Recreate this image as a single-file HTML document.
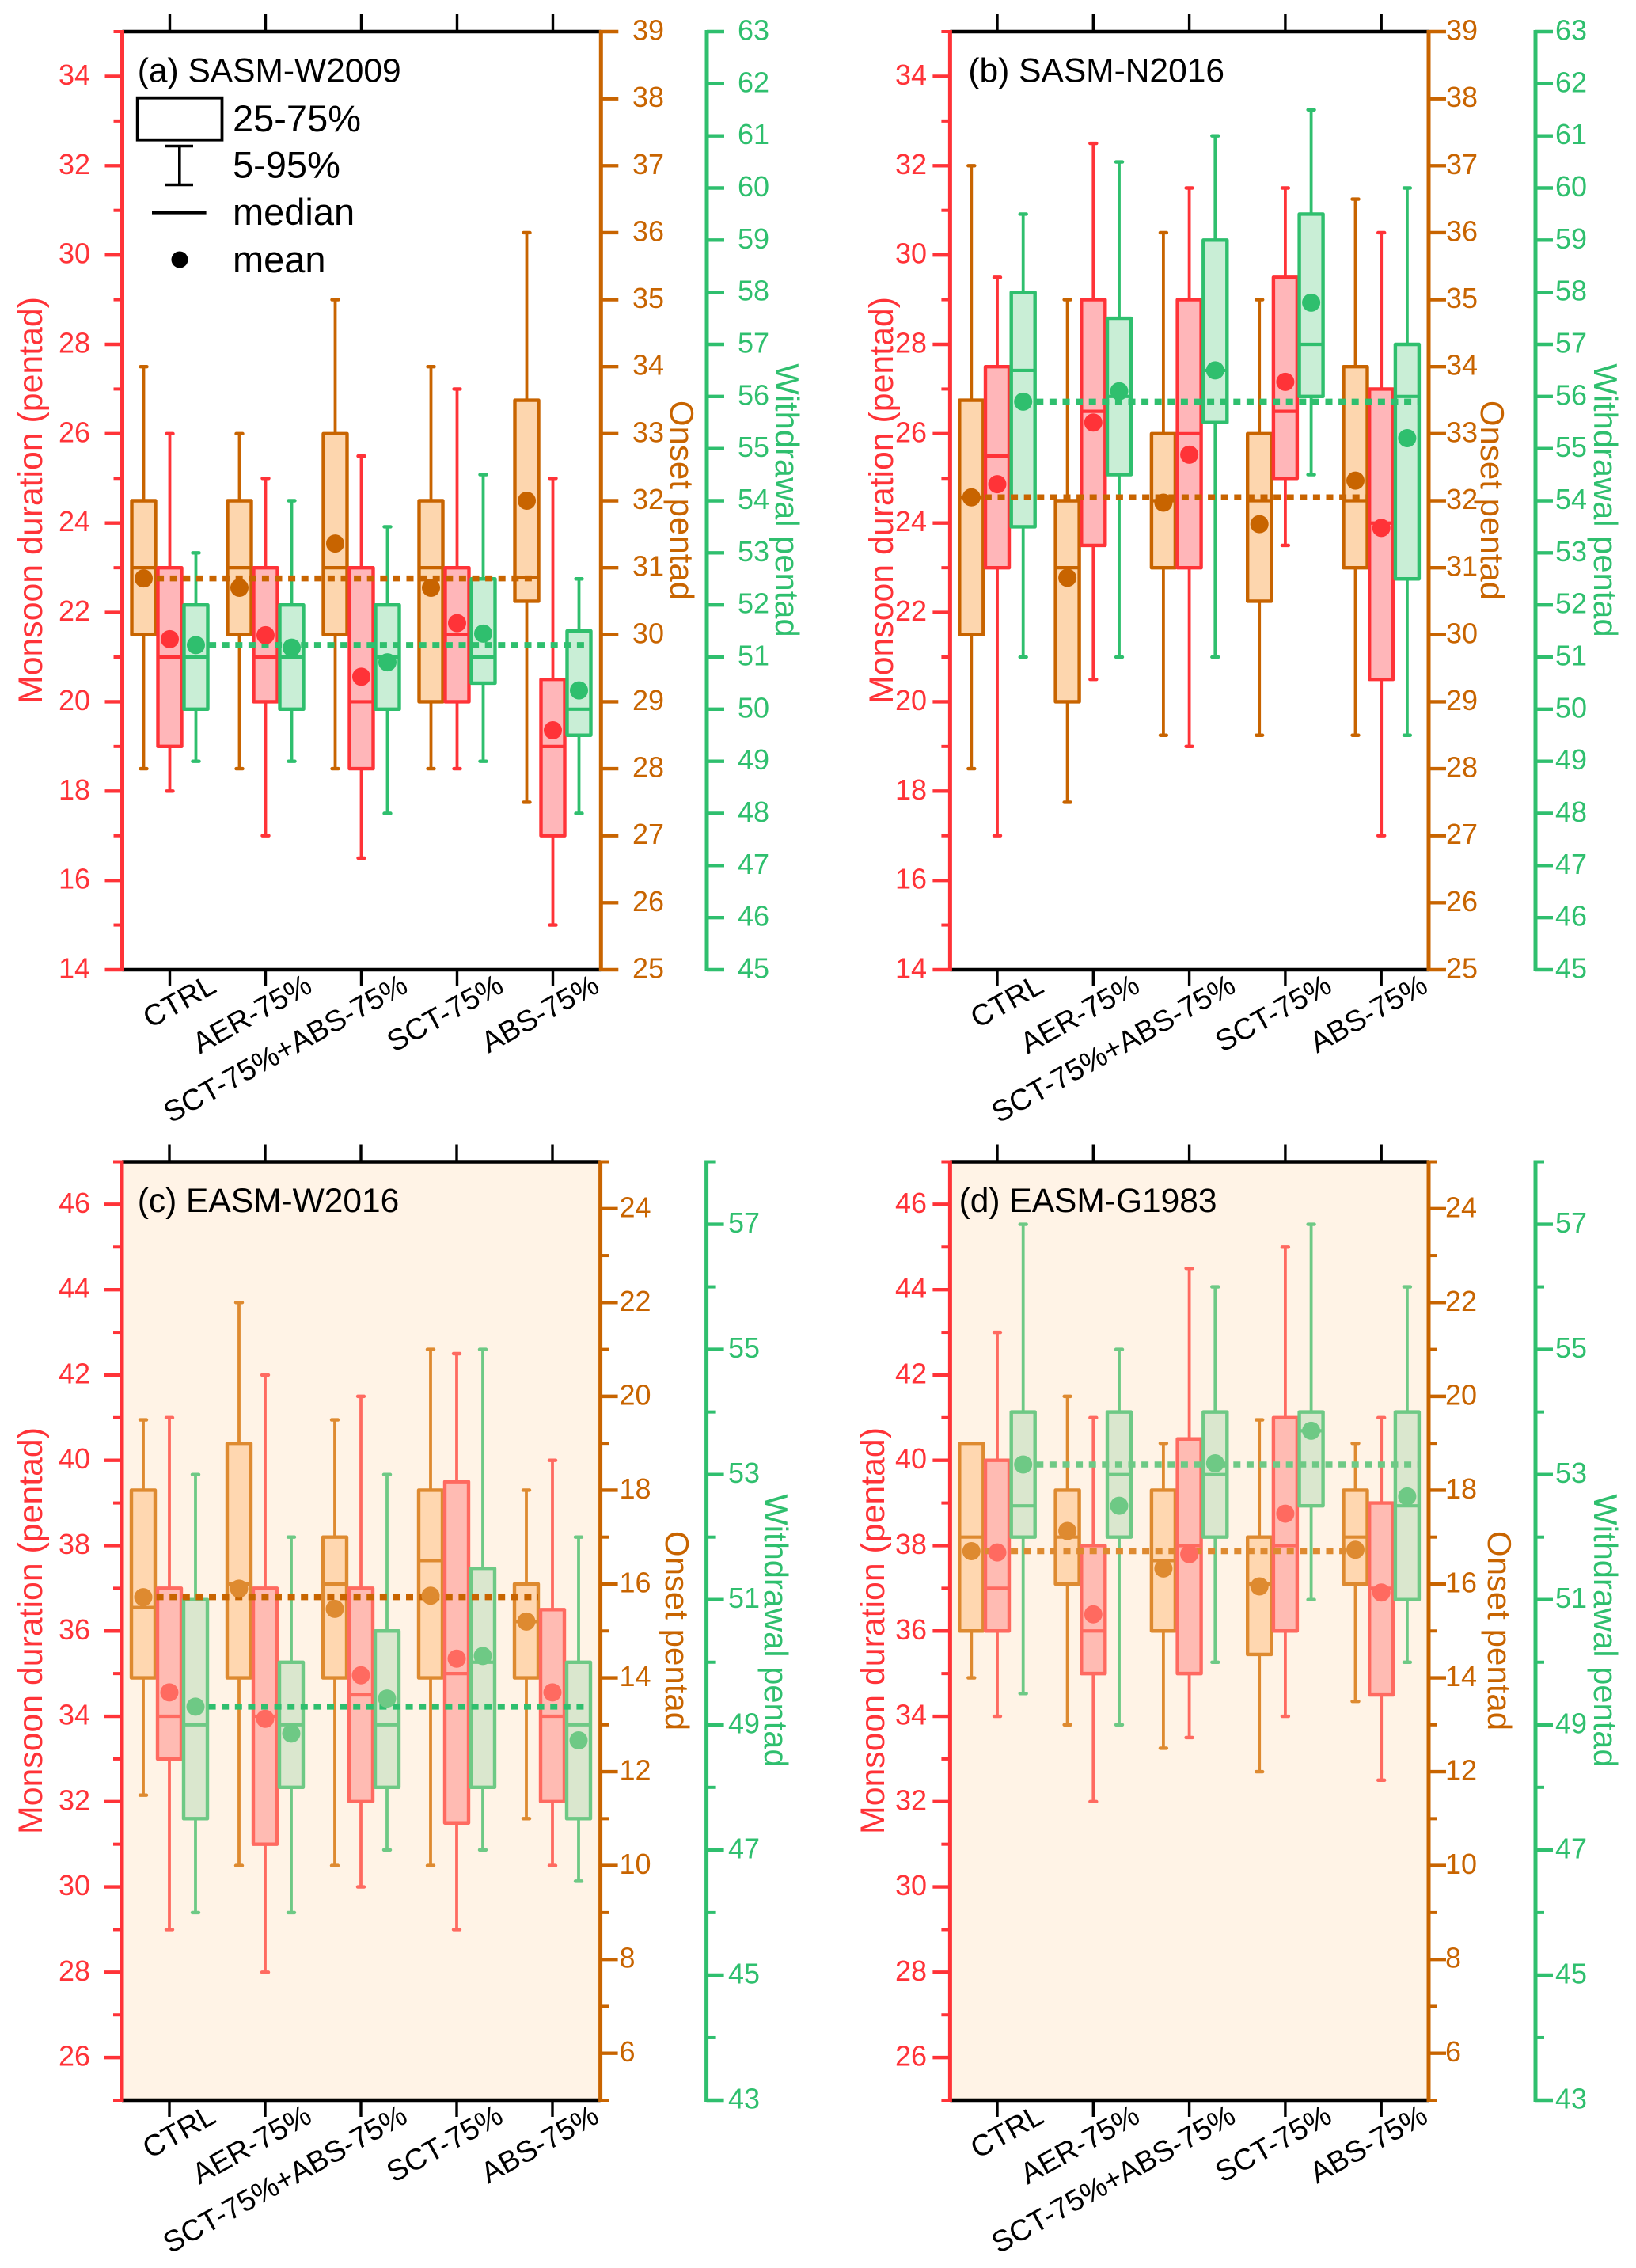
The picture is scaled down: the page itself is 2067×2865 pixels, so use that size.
<!DOCTYPE html>
<html lang="en">
<head>
<meta charset="utf-8">
<title>Monsoon duration, onset and withdrawal box plots</title>
<style>
html,body{margin:0;padding:0;background:#fff;}
svg{display:block;font-family:"Liberation Sans",Arial,sans-serif;}
</style>
</head>
<body>
<svg id="chart" xmlns="http://www.w3.org/2000/svg" width="2067" height="2865" viewBox="0 0 2067 2865"></svg>
<script>
// Categories
const categories = ["CTRL","AER-75%","SCT-75%+ABS-75%","SCT-75%","ABS-75%"];

// Axis tick labels
const sasmDurationTicks = [14,16,18,20,22,24,26,28,30,32,34];
const sasmDurationMinor = [15,17,19,21,23,25,27,29,31,33,35];
const sasmOnsetTicks = [25,26,27,28,29,30,31,32,33,34,35,36,37,38,39];
const sasmOnsetMinor = [];
const sasmWithdrawalTicks = [45,46,47,48,49,50,51,52,53,54,55,56,57,58,59,60,61,62,63];
const sasmWithdrawalMinor = [];
const easmDurationTicks = [26,28,30,32,34,36,38,40,42,44,46];
const easmDurationMinor = [25,27,29,31,33,35,37,39,41,43,45,47];
const easmOnsetTicks = [6,8,10,12,14,16,18,20,22,24];
const easmOnsetMinor = [5,7,9,11,13,15,17,19,21,23,25];
const easmWithdrawalTicks = [43,45,47,49,51,53,55,57];
const easmWithdrawalMinor = [44,46,48,50,52,54,56,58];

// Panel (a) SASM-W2009
const aOnsetLow  = [28,28,28,28,27.5];
const aOnsetQ1   = [30,30,30,29,30.5];
const aOnsetMed  = [31,31,31,31,30.85];
const aOnsetQ3   = [32,32,33,32,33.5];
const aOnsetHigh = [34,33,35,34,36];
const aOnsetMean = [30.84,30.7,31.36,30.7,32];
const aDurLow  = [18,17,16.5,18.5,15];
const aDurQ1   = [19,20,18.5,20,17];
const aDurMed  = [21,21,20,21.5,19];
const aDurQ3   = [23,23,23,23,20.5];
const aDurHigh = [26,25,25.5,27,25];
const aDurMean = [21.4,21.49,20.56,21.76,19.36];
const aWdrLow  = [49,49,48,49,48];
const aWdrQ1   = [50,50,50,50.5,49.5];
const aWdrMed  = [51,51,51,51,50];
const aWdrQ3   = [52,52,52,52.5,51.5];
const aWdrHigh = [53,54,53.5,54.5,52.5];
const aWdrMean = [51.23,51.18,50.9,51.45,50.36];

// Panel (b) SASM-N2016
const bOnsetLow  = [28,27.5,28.5,28.5,28.5];
const bOnsetQ1   = [30,29,31,30.5,31];
const bOnsetMed  = [32.05,31,32,32,32];
const bOnsetQ3   = [33.5,32,33,33,34];
const bOnsetHigh = [37,35,36,35,36.5];
const bOnsetMean = [32.05,30.85,31.97,31.65,32.3];
const bDurLow  = [17,20.5,19,23.5,17];
const bDurQ1   = [23,23.5,23,25,20.5];
const bDurMed  = [25.5,26.5,26,26.5,24];
const bDurQ3   = [27.5,29,29,29.5,27];
const bDurHigh = [29.5,32.5,31.5,31.5,30.5];
const bDurMean = [24.87,26.25,25.53,27.16,23.89];
const bWdrLow  = [51,51,51,54.5,49.5];
const bWdrQ1   = [53.5,54.5,55.5,56,52.5];
const bWdrMed  = [56.5,56,56.5,57,56];
const bWdrQ3   = [58,57.5,59,59.5,57];
const bWdrHigh = [59.5,60.5,61,61.5,60];
const bWdrMean = [55.9,56.1,56.5,57.8,55.2];

// Panel (c) EASM-W2016
const cOnsetLow  = [11.5,10,10,10,11];
const cOnsetQ1   = [14,14,14,14,14];
const cOnsetMed  = [15.5,16,16,16.5,15.2];
const cOnsetQ3   = [18,19,17,18,16];
const cOnsetHigh = [19.5,22,19.5,21,18];
const cOnsetMean = [15.72,15.9,15.47,15.75,15.2];
const cDurLow  = [29,28,30,29,30.5];
const cDurQ1   = [33,31,32,31.5,32];
const cDurMed  = [34,34,34.5,35,34];
const cDurQ3   = [37,37,37,39.5,36.5];
const cDurHigh = [41,42,41.5,42.5,40];
const cDurMean = [34.56,33.94,34.96,35.35,34.56];
const cWdrLow  = [46,46,47,47,46.5];
const cWdrQ1   = [47.5,48,48,48,47.5];
const cWdrMed  = [49,49,49,50,49];
const cWdrQ3   = [51,50,50.5,51.5,50];
const cWdrHigh = [53,52,53,55,52];
const cWdrMean = [49.29,48.86,49.42,50.1,48.75];

// Panel (d) EASM-G1983
const dOnsetLow  = [14,13,12.5,12,13.5];
const dOnsetQ1   = [15,16,15,14.5,16];
const dOnsetMed  = [17,17,16.5,16,17];
const dOnsetQ3   = [19,18,18,17,18];
const dOnsetHigh = [19,20,19,19.5,19];
const dOnsetMean = [16.7,17.13,16.33,15.95,16.73];
const dDurLow  = [34,32,33.5,34,32.5];
const dDurQ1   = [36,35,35,36,34.5];
const dDurMed  = [37,36,38,38,37];
const dDurQ3   = [40,38,40.5,41,39];
const dDurHigh = [43,41,44.5,45,41];
const dDurMean = [37.84,36.39,37.8,38.75,36.9];
const dWdrLow  = [49.5,49,50,51,50];
const dWdrQ1   = [52,52,52,52.5,51];
const dWdrMed  = [52.5,53,53,53.7,52.5];
const dWdrQ3   = [54,54,54,54,54];
const dWdrHigh = [57,55,56,57,56];
const dWdrMean = [53.16,52.5,53.18,53.7,52.65];

const strong = {onset:"#C86400", dur:"#FF3338", wdr:"#2FBF6E"};
const light  = {onset:"#DE8A30", dur:"#FF6A60", wdr:"#6EC985"};
const fillWhite = {onset:"#FDD6AE", dur:"#FFB6B9", wdr:"#C9EED6"};
const fillCream = {onset:"#FFD7B0", dur:"#FFBBB3", wdr:"#DAE7CE"};

const sasmAxes = {
  dur:{min:14,max:35,ticks:sasmDurationTicks,minor:sasmDurationMinor},
  onset:{min:25,max:39,ticks:sasmOnsetTicks,minor:sasmOnsetMinor},
  wdr:{min:45,max:63,ticks:sasmWithdrawalTicks,minor:sasmWithdrawalMinor}
};
const easmAxes = {
  dur:{min:25,max:47,ticks:easmDurationTicks,minor:easmDurationMinor},
  onset:{min:5,max:25,ticks:easmOnsetTicks,minor:easmOnsetMinor},
  wdr:{min:43,max:58,ticks:easmWithdrawalTicks,minor:easmWithdrawalMinor}
};

const panels = [
 {id:"a",title:"(a) SASM-W2009",titleX:173.7,titleY:103.6,left:154.5,right:759.3,green:893,top:40,bottom:1225,tick0:214.5,step:121,off:33,axes:sasmAxes,
  durR:114,onsetL:799,wdrL:932,durT:53,onsetT:847,wdrT:980,mid:632,bg:null,line:strong,dash:strong,fill:fillWhite,
  onset:[aOnsetLow,aOnsetQ1,aOnsetMed,aOnsetQ3,aOnsetHigh,aOnsetMean],
  dur:[aDurLow,aDurQ1,aDurMed,aDurQ3,aDurHigh,aDurMean],
  wdr:[aWdrLow,aWdrQ1,aWdrMed,aWdrQ3,aWdrHigh,aWdrMean]},
 {id:"b",title:"(b) SASM-N2016",titleX:1223.4,titleY:103.6,left:1200.4,right:1805,green:1940,top:40,bottom:1225,tick0:1260,step:121.3,off:32.7,axes:sasmAxes,
  durR:1171,onsetL:1827,wdrL:1965,durT:1128,onsetT:1871,wdrT:2014,mid:632,bg:null,line:strong,dash:strong,fill:fillWhite,
  onset:[bOnsetLow,bOnsetQ1,bOnsetMed,bOnsetQ3,bOnsetHigh,bOnsetMean],
  dur:[bDurLow,bDurQ1,bDurMed,bDurQ3,bDurHigh,bDurMean],
  wdr:[bWdrLow,bWdrQ1,bWdrMed,bWdrQ3,bWdrHigh,bWdrMean]},
 {id:"c",title:"(c) EASM-W2016",titleX:173.7,titleY:1531,left:154,right:758.6,green:892.6,top:1467.5,bottom:2653,tick0:214,step:121,off:33,axes:easmAxes,
  durR:114,onsetL:782.5,wdrL:920,durT:53,onsetT:841,wdrT:966,mid:2060,bg:"#FFF3E6",line:light,dash:strong,fill:fillCream,
  onset:[cOnsetLow,cOnsetQ1,cOnsetMed,cOnsetQ3,cOnsetHigh,cOnsetMean],
  dur:[cDurLow,cDurQ1,cDurMed,cDurQ3,cDurHigh,cDurMean],
  wdr:[cWdrLow,cWdrQ1,cWdrMed,cWdrQ3,cWdrHigh,cWdrMean]},
 {id:"d",title:"(d) EASM-G1983",titleX:1211.6,titleY:1531,left:1200.4,right:1805,green:1940,top:1467.5,bottom:2653,tick0:1260,step:121.3,off:32.7,axes:easmAxes,
  durR:1171,onsetL:1826,wdrL:1965,durT:1117,onsetT:1880,wdrT:2014,mid:2060,bg:"#FFF3E6",line:light,dash:light,fill:fillCream,
  onset:[dOnsetLow,dOnsetQ1,dOnsetMed,dOnsetQ3,dOnsetHigh,dOnsetMean],
  dur:[dDurLow,dDurQ1,dDurMed,dDurQ3,dDurHigh,dDurMean],
  wdr:[dWdrLow,dWdrQ1,dWdrMed,dWdrQ3,dWdrHigh,dWdrMean]}
];

const NS = "http://www.w3.org/2000/svg";
const root = document.getElementById("chart");
function mk(parent, tag, attrs, text){
  const n = document.createElementNS(NS, tag);
  for(const k in attrs){ n.setAttribute(k, attrs[k]); }
  if(text !== undefined){ n.textContent = text; }
  parent.appendChild(n);
  return n;
}
function scale(ax, p){
  return v => p.bottom - (v - ax.min) * (p.bottom - p.top) / (ax.max - ax.min);
}

function drawYAxis(g, p, key, axisX, dir, labelX, anchor, color, nm){
  const ax = p.axes[key];
  const y = scale(ax, p);
  let el = mk(g, "line", {x1:axisX,x2:axisX,y1:p.top-2,y2:p.bottom+2,stroke:color,"stroke-width":5});
  
  
  ax.ticks.forEach(v => {
    const t = mk(g, "line", {x1:axisX,x2:axisX+dir*22,y1:y(v),y2:y(v),stroke:color,"stroke-width":4.4});
    
    
    const l = mk(g, "text", {x:labelX,y:y(v)+10.5,fill:color,"font-size":36,"text-anchor":anchor}, String(v));
    
    
  });
  ax.minor.forEach(v => {
    const t = mk(g, "line", {x1:axisX,x2:axisX+dir*11,y1:y(v),y2:y(v),stroke:color,"stroke-width":4});
    
    
  });
}

function drawSeries(g, p, key, dx, nm){
  const y = scale(p.axes[key], p);
  const s = p[key];
  const color = p.line[key];
  const fill = p.fill[key];
  categories.forEach((c, i) => {
    const cx = p.tick0 + p.step * i + dx;
    const grp = mk(g, "g", {});
    
    
    const w = mk(grp, "line", {x1:cx,x2:cx,y1:y(s[0][i]),y2:y(s[4][i]),stroke:color,"stroke-width":3.8});
    
    
    [s[0][i], s[4][i]].forEach(v => {
      const cap = mk(grp, "line", {x1:cx-4,x2:cx+4,y1:y(v),y2:y(v),stroke:color,"stroke-width":4.4,"stroke-linecap":"round"});
      
      
    });
    const b = mk(grp, "rect", {x:cx-15,y:y(s[3][i]),width:30,height:y(s[1][i])-y(s[3][i]),fill:fill,stroke:color,"stroke-width":4.4,"stroke-linejoin":"round"});
    
    
    const m = mk(grp, "line", {x1:cx-15,x2:cx+15,y1:y(s[2][i]),y2:y(s[2][i]),stroke:color,"stroke-width":4.2});
    
    
  });
}

function drawMeans(g, p, key, dx, nm){
  const y = scale(p.axes[key], p);
  const mean = p[key][5];
  categories.forEach((c, i) => {
    const d = mk(g, "circle", {cx:p.tick0+p.step*i+dx,cy:y(mean[i]),r:11.5,fill:p.line[key]});
    
    
  });
}

function drawRef(g, p, key, dx, nm){
  const y = scale(p.axes[key], p);
  const v = y(p[key][5][0]);
  const r = mk(g, "line", {x1:p.tick0+dx,x2:p.tick0+p.step*4+dx+15,y1:v,y2:v,stroke:p.dash[key],"stroke-width":7.5,"stroke-dasharray":"9 7.6"});
  
  
}

function yTitle(g, x, y, rot, txt, size, color, nm){
  const t = mk(g, "text", {transform:"translate("+x+" "+y+") rotate("+rot+")",fill:color,"font-size":size,"text-anchor":"middle"}, txt);
  
  
}

panels.forEach(p => {
  const g = mk(root, "g", {});
  
  

  if(p.bg){
    const bg = mk(g, "rect", {x:p.left,y:p.top,width:p.right-p.left,height:p.bottom-p.top,fill:p.bg});
    
    
  }

  drawSeries(g, p, "onset", -p.off, "onset");
  drawSeries(g, p, "dur", 0, "duration");
  drawSeries(g, p, "wdr", p.off, "withdrawal");
  drawRef(g, p, "onset", -p.off, "onset");
  drawRef(g, p, "wdr", p.off, "withdrawal");
  drawMeans(g, p, "onset", -p.off, "onset");
  drawMeans(g, p, "dur", 0, "duration");
  drawMeans(g, p, "wdr", p.off, "withdrawal");

  // frame
  [p.top, p.bottom].forEach(fy => {
    const f = mk(g, "line", {x1:p.left,x2:p.right,y1:fy,y2:fy,stroke:"#000","stroke-width":4.6});
    
    
  });
  categories.forEach((c, i) => {
    const tx = p.tick0 + p.step * i;
    const t1 = mk(g, "line", {x1:tx,x2:tx,y1:p.top,y2:p.top-22,stroke:"#000","stroke-width":3.4});
    
    
    const t2 = mk(g, "line", {x1:tx,x2:tx,y1:p.bottom,y2:p.bottom+21,stroke:"#000","stroke-width":3.4});
    
    
    const lx = tx + 61;
    const ly = p.bottom + 27;
    const lab = mk(g, "text", {transform:"translate("+lx+" "+ly+") rotate(-29)",fill:"#000","font-size":37.5,"text-anchor":"end"}, c);
    
    
  });

  drawYAxis(g, p, "dur", p.left, -1, p.durR, "end", strong.dur, "duration");
  drawYAxis(g, p, "onset", p.right, 1, p.onsetL, "start", strong.onset, "onset");
  drawYAxis(g, p, "wdr", p.green, 1, p.wdrL, "start", strong.wdr, "withdrawal");

  yTitle(g, p.durT, p.mid, -90, "Monsoon duration (pentad)", 42.8, strong.dur, "duration-axis-title");
  yTitle(g, p.onsetT, p.mid, 90, "Onset pentad", 42, strong.onset, "onset-axis-title");
  yTitle(g, p.wdrT, p.mid, 90, "Withdrawal pentad", 41.7, strong.wdr, "withdrawal-axis-title");

  const title = mk(g, "text", {x:p.titleX,y:p.titleY,fill:"#000","font-size":42.5}, p.title);
  
  
});

// Legend (panel a)
const leg = mk(root, "g", {});


const legBox = mk(leg, "rect", {x:173.7,y:123.7,width:106.8,height:53,fill:"none",stroke:"#000","stroke-width":3.8});


const legTxt1 = mk(leg, "text", {x:294,y:166,"font-size":47,fill:"#000"}, "25-75%");


const legW = mk(leg, "path", {d:"M209 184.5H244M226.8 184.5V233.5M209 233.5H244",fill:"none",stroke:"#000","stroke-width":3.6});


const legTxt2 = mk(leg, "text", {x:294,y:224.6,"font-size":47,fill:"#000"}, "5-95%");


const legM = mk(leg, "line", {x1:192,x2:260.6,y1:268.7,y2:268.7,stroke:"#000","stroke-width":3.8});


const legTxt3 = mk(leg, "text", {x:294,y:284,"font-size":47,fill:"#000"}, "median");


const legD = mk(leg, "circle", {cx:227,cy:328,r:10.5,fill:"#000"});


const legTxt4 = mk(leg, "text", {x:294,y:344,"font-size":47,fill:"#000"}, "mean");


</script>
</body>
</html>
